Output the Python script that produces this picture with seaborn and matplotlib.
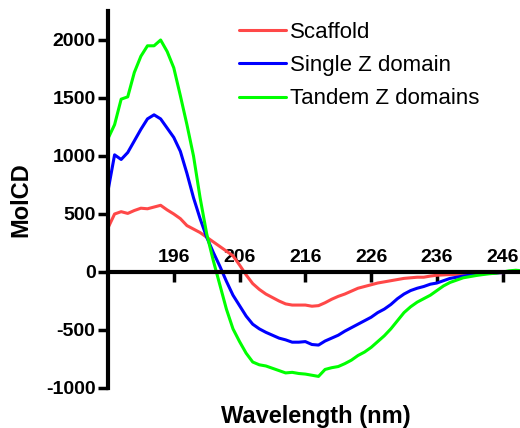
import numpy as np
import pandas as pd
import seaborn as sns
import matplotlib.pyplot as plt

# CD spectra, 1 nm steps
wavelength = list(range(186, 250))

scaffold = [380, 500, 520, 505, 530, 550, 545, 560, 575, 535,
            500, 460, 400, 370, 340, 300, 260, 220, 180, 140,
            60, -25, -100, -150, -190, -220, -250, -275, -285, -285,
            -285, -295, -290, -265, -235, -210, -190, -165, -140, -125,
            -110, -95, -85, -75, -65, -55, -50, -45, -45, -35,
            -28, -25, -22, -20, -17, -15, -12, -10, -9, -7,
            -5, -3, -2, 0]

single_z = [700, 1010, 970, 1030, 1130, 1230, 1320, 1355, 1320, 1240,
            1160, 1040, 850, 640, 460, 300, 170, 50, -80, -200,
            -290, -380, -450, -490, -520, -545, -570, -585, -605, -605,
            -600, -625, -630, -595, -570, -545, -510, -480, -450, -420,
            -390, -350, -320, -280, -230, -190, -160, -140, -125, -105,
            -95, -75, -55, -45, -35, -28, -20, -15, -10, -8,
            -5, -3, -2, 0]

tandem_z = [1150, 1270, 1490, 1510, 1720, 1860, 1950, 1950, 2000, 1900,
            1760, 1520, 1270, 1000, 640, 330, 100, -110, -320, -490,
            -600, -700, -776, -800, -810, -830, -850, -870, -865, -875,
            -880, -890, -900, -840, -825, -815, -790, -760, -720, -690,
            -650, -600, -550, -490, -420, -350, -300, -260, -230, -200,
            -160, -120, -90, -70, -50, -40, -30, -22, -15, -10,
            0, 10, 15, 10]

series = ['Scaffold', 'Single Z domain', 'Tandem Z domains']
colors = ['#FF4848', '#0000FF', '#00FF00']
x_ticks = [196, 206, 216, 226, 236, 246]
y_ticks = [-1000, -500, 0, 500, 1000, 1500, 2000]

df = pd.DataFrame({
    'wl': wavelength * 3,
    'cd': scaffold + single_z + tandem_z,
    'sample': [s for s in series for _ in wavelength],
})

sns.set_style('ticks')
plt.rcParams['font.family'] = ['Liberation Sans', 'DejaVu Sans']
plt.rcParams['axes.unicode_minus'] = False
for k in ['text.color', 'axes.labelcolor', 'xtick.color', 'ytick.color',
          'axes.edgecolor']:
    plt.rcParams[k] = 'black'

fig = plt.figure(figsize=(5.2, 4.28), dpi=100)
ax = fig.add_axes([108 / 520, 1 - 388 / 428, 421 / 520, 377 / 428])

sns.lineplot(data=df, x='wl', y='cd', hue='sample', hue_order=series,
             palette=dict(zip(series, colors)), estimator=None, lw=2.2, ax=ax)

ax.set_xlim(186, 250)
ax.set_ylim(-1000, 2250)

# x axis drawn at zero, labels above the line, ticks hanging below
ax.spines['bottom'].set_visible(False)
ax.spines['right'].set_visible(False)
ax.spines['top'].set_position(('data', 0))
ax.spines['top'].set_linewidth(3)
ax.spines['left'].set_linewidth(3)
ax.spines['left'].set_bounds(-1000, 2250)
ax.xaxis.tick_top()
ax.set_xticks(x_ticks)
ax.set_yticks(y_ticks)
ax.tick_params(axis='x', direction='in', length=7, width=2.5, pad=4,
               labelsize=14)
ax.tick_params(axis='y', direction='out', length=7, width=2.5, pad=2,
               labelsize=14)
for t in ax.get_xticklabels() + ax.get_yticklabels():
    t.set_fontweight('bold')

ax.set_xlabel('')
ax.set_ylabel('MolCD', fontsize=17, fontweight='bold')
ax.yaxis.set_label_coords(-0.18, 0.5)
fig.text(316 / 520, 1 - 405 / 428, 'Wavelength (nm)', ha='center', va='top',
         fontsize=17, fontweight='bold')

leg = ax.legend(loc='upper left', bbox_to_anchor=(239 / 520, 1 - 22 / 428),
                bbox_transform=fig.transFigure, frameon=False, fontsize=16,
                borderpad=0, borderaxespad=0, handlelength=2.1,
                handletextpad=0.2, labelspacing=0.55)
for line in leg.get_lines():
    line.set_linewidth(2.2)

fig.savefig('out.png', dpi=100)
